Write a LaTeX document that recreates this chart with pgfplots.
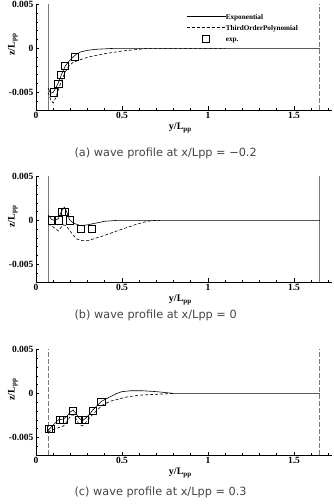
\documentclass[border=0pt]{standalone}
\usepackage{fontspec}
\setmainfont{Liberation Serif}
\newfontfamily\capfont{DejaVu Sans}
\usepackage{pgfplots}
\pgfplotsset{compat=1.18}

\definecolor{capgray}{HTML}{444444}
\definecolor{bndgray}{HTML}{7A7A7A}

\pgfplotsset{
  waveaxis/.style={
    scale only axis, width=295.8pt, height=105.6pt,
    xmin=0, xmax=1.72, ymin=-0.007, ymax=0.005,
    axis x line=bottom, axis y line=left,
    axis line style={-, line width=0.8pt},
    scaled y ticks=false, scaled x ticks=false,
    xtick={0,0.5,1,1.5}, xticklabels={0,0.5,1,1.5},
    ytick={-0.005,0,0.005}, yticklabels={-0.005,0,0.005},
    minor xtick={0.1,0.2,0.3,0.4,0.6,0.7,0.8,0.9,1.1,1.2,1.3,1.4,1.6,1.7},
    minor ytick={-0.007,-0.006,-0.004,-0.003,-0.002,-0.001,0.001,0.002,0.003,0.004},
    tick align=inside, major tick length=3.5pt, minor tick length=2pt,
    tick style={black, line width=0.6pt},
    tick label style={font=\bfseries\fontsize{9.5}{11}\selectfont},
    xticklabel style={yshift=1pt},
    yticklabel style={xshift=1pt},
    xlabel={y/L\textsubscript{pp}}, ylabel={z/L\textsubscript{pp}},
    label style={font=\bfseries\fontsize{10}{12}\selectfont},
    x label style={at={(axis description cs:0.488,0)}, anchor=center, yshift=-18pt},
    y label style={at={(axis description cs:-0.078,0.62)}, anchor=center},
    legend image code/.code={%
      \draw[mark repeat=2,mark phase=2,#1] plot coordinates {(0pt,0pt) (19.5pt,0pt) (39pt,0pt)};},
  },
  expline/.style={black, line width=0.6pt, no marks},
  polyline/.style={black, line width=0.6pt, dash pattern=on 3pt off 2pt, no marks},
  expdata/.style={only marks, mark=square, mark size=3.6pt,
    mark options={solid, draw=black, fill=none, line width=0.9pt}},
  bound/.style={bndgray, line width=0.7pt, no marks, forget plot},
}

\begin{document}
\begin{tikzpicture}
\useasboundingbox (0pt,0pt) rectangle (334pt,504pt);

% (a) x/Lpp = -0.2
\begin{axis}[waveaxis, at={(36pt,394pt)}, anchor=south west,
  legend style={at={(0.497,0.948)}, anchor=north west, draw=none, fill=none,
    font=\bfseries\fontsize{7.2}{8.5}\selectfont, row sep=2pt,
    nodes={inner sep=0pt, text height=7pt, text depth=2pt},
    /tikz/every even column/.append style={column sep=8pt}},
  legend cell align=left]
\addplot[bound] coordinates {(0.07,-0.007) (0.07,0.005)};
\addplot[bound, dash pattern=on 5pt off 2pt] coordinates {(1.65,-0.007) (1.65,0.005)};
\addplot[expline] coordinates {
(0.07,-0.0045) (0.085,-0.0051) (0.10,-0.0050) (0.115,-0.0045) (0.13,-0.0039)
(0.15,-0.0029) (0.17,-0.0020) (0.19,-0.0015) (0.22,-0.0009) (0.24,-0.0006)
(0.26,-0.0004) (0.30,-0.00022) (0.35,-0.0001) (0.45,0) (1.65,0)};
\addlegendentry{Exponential}
\addplot[polyline] coordinates {
(0.07,-0.0050) (0.085,-0.0058) (0.10,-0.0062) (0.115,-0.0056) (0.13,-0.0047)
(0.15,-0.0036) (0.17,-0.0027) (0.19,-0.0020) (0.215,-0.0016) (0.24,-0.0014)
(0.30,-0.0010) (0.35,-0.0008) (0.40,-0.0006) (0.50,-0.0003) (0.60,-0.0001)
(0.65,0) (1.10,0)};
\addlegendentry{ThirdOrderPolynomial}
\addplot[expdata] coordinates {
(0.105,-0.005) (0.13,-0.004) (0.147,-0.003) (0.17,-0.002) (0.225,-0.001)};
\addlegendentry{exp.}
\end{axis}
\node[anchor=west, text=capgray, font=\capfont\fontsize{11.3}{13}\selectfont]
  at (71pt,351pt) {(a) wave profile at x/Lpp = −0.2};

% (b) x/Lpp = 0
\begin{axis}[waveaxis, at={(36pt,222pt)}, anchor=south west]
\addplot[bound] coordinates {(0.07,-0.007) (0.07,0.005)};
\addplot[bound] coordinates {(1.65,-0.007) (1.65,0.005)};
\addplot[expline] coordinates {
(0.07,0.0006) (0.08,0.0004) (0.09,0.0001) (0.11,0) (0.13,0.0002) (0.15,0.0011)
(0.165,0.0015) (0.18,0.0009) (0.195,0.0001) (0.21,-0.0002) (0.23,-0.0004)
(0.26,-0.0006) (0.30,-0.0005) (0.35,-0.0003) (0.40,-0.0001) (0.47,0) (1.65,0)};
\addplot[polyline] coordinates {
(0.07,-0.0004) (0.09,-0.0006) (0.11,-0.0009) (0.13,-0.0012) (0.145,-0.0008)
(0.16,-0.0005) (0.175,-0.0006) (0.19,-0.0010) (0.21,-0.0015) (0.235,-0.0021)
(0.27,-0.0023) (0.30,-0.0023) (0.35,-0.0020) (0.40,-0.0017) (0.47,-0.0012)
(0.53,-0.0008) (0.59,-0.0004) (0.65,-0.0001) (0.69,0) (0.72,0)};
\addplot[expdata] coordinates {
(0.091,0) (0.13,0) (0.153,0.001) (0.17,0.001) (0.196,0) (0.26,-0.001) (0.326,-0.001)};
\end{axis}
\node[anchor=west, text=capgray, font=\capfont\fontsize{11.3}{13}\selectfont]
  at (71pt,189pt) {(b) wave profile at x/Lpp = 0};

% (c) x/Lpp = 0.3
\begin{axis}[waveaxis, at={(36pt,49pt)}, anchor=south west]
\addplot[bound, dash pattern=on 5pt off 2pt] coordinates {(0.07,-0.007) (0.07,0.005)};
\addplot[bound, dash pattern=on 5pt off 2pt] coordinates {(1.65,-0.007) (1.65,0.005)};
\addplot[expline] coordinates {
(0.07,-0.0042) (0.09,-0.0038) (0.11,-0.0034) (0.13,-0.0030) (0.16,-0.0029)
(0.18,-0.0026) (0.20,-0.0021) (0.215,-0.0019) (0.23,-0.0022) (0.25,-0.0028)
(0.27,-0.0031) (0.29,-0.0028) (0.31,-0.0024) (0.33,-0.0019) (0.36,-0.0013)
(0.38,-0.0009) (0.41,-0.0006) (0.44,-0.0003) (0.47,0) (0.50,0.0002) (0.55,0.0003)
(0.62,0.0003) (0.70,0.0002) (0.75,0.0001) (0.80,0) (1.65,0)};
\addplot[polyline] coordinates {
(0.07,-0.0044) (0.10,-0.0041) (0.13,-0.0039) (0.16,-0.0037) (0.18,-0.0032)
(0.20,-0.0026) (0.215,-0.0024) (0.23,-0.0028) (0.25,-0.0035) (0.27,-0.0037)
(0.29,-0.0033) (0.31,-0.0028) (0.33,-0.0024) (0.36,-0.0018) (0.39,-0.0013)
(0.43,-0.0009) (0.47,-0.0007) (0.53,-0.0004) (0.60,-0.0002) (0.70,-0.0001) (0.80,0)};
\addplot[expdata] coordinates {
(0.075,-0.004) (0.085,-0.004) (0.14,-0.003) (0.16,-0.003) (0.215,-0.002)
(0.25,-0.003) (0.285,-0.003) (0.33,-0.002) (0.38,-0.001)};
\end{axis}
\node[anchor=west, text=capgray, font=\capfont\fontsize{11.3}{13}\selectfont]
  at (71pt,12pt) {(c) wave profile at x/Lpp = 0.3};
\end{tikzpicture}
\end{document}
